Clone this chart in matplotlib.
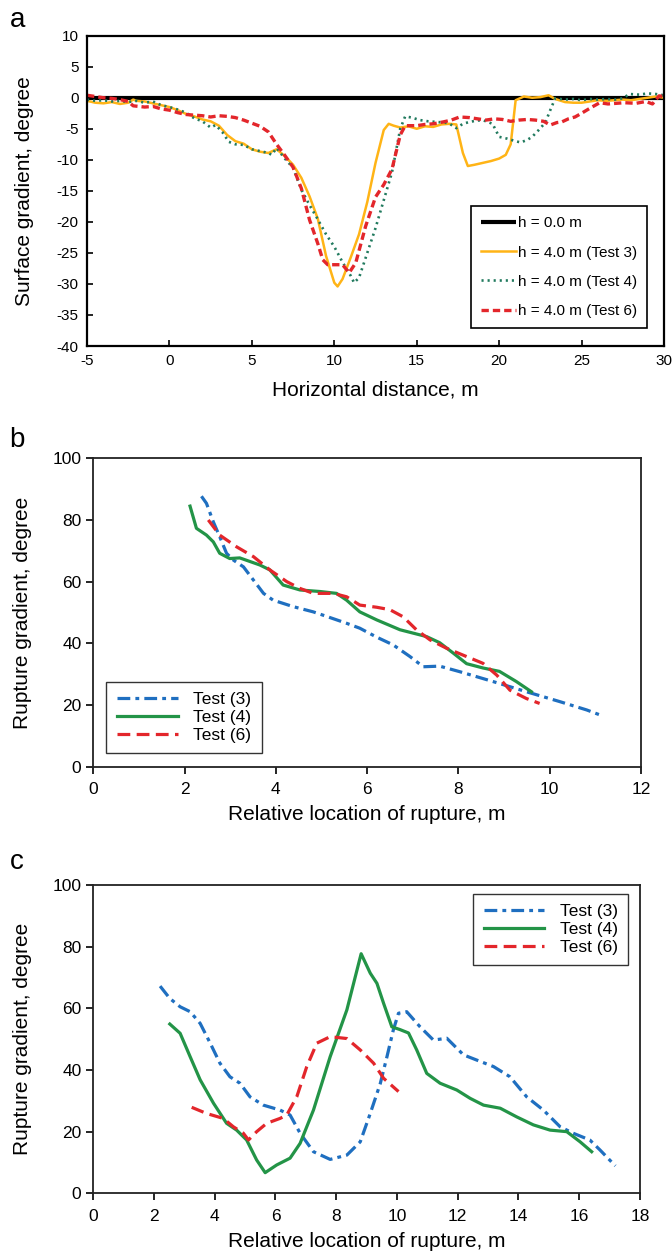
import numpy as np
import matplotlib
matplotlib.use("Agg")
import matplotlib.pyplot as plt

plt.rcParams['font.family'] = ['Liberation Sans', 'DejaVu Sans']
plt.rcParams['axes.unicode_minus'] = False
NARROW = ['Liberation Sans Narrow', 'Liberation Sans', 'DejaVu Sans']

# ---- panel a: surface gradient profiles ----
a_x_t3 = [-5, -4.5, -4, -3.5, -3, -2.5, -2.2, -2, -1.5, -1, -0.5, 0, 0.5, 1, 1.5, 2, 2.5, 3, 3.5, 4,
          4.5, 5, 5.5, 6, 6.5, 7, 7.5, 8, 8.5, 9, 9.5, 10, 10.2, 10.5, 11, 11.5, 12, 12.5, 13, 13.3,
          13.6, 14, 14.5, 15, 15.5, 16, 16.5, 17, 17.4, 17.8, 18.1, 18.5, 19, 19.5, 20, 20.4, 20.7, 21.0,
          21.5, 22, 22.5, 23, 23.4, 24, 24.5, 25, 25.5, 26, 26.5, 27, 27.5, 28, 28.5, 29, 29.5, 30]
a_y_t3 = [-0.5, -0.8, -0.9, -0.7, -1.0, -0.8, -0.3, -0.5, -0.6, -0.9, -1.2, -1.5, -2.0, -2.6, -3.0, -3.5,
          -3.8, -4.5, -6.0, -7.0, -7.4, -8.3, -8.7, -8.9, -8.3, -9.4, -10.8, -12.9, -15.9, -19.5, -25.5,
          -29.8, -30.4, -29.2, -25.7, -22.0, -16.8, -10.5, -5.2, -4.2, -4.5, -4.8, -4.6, -5.0, -4.6, -4.7,
          -4.3, -4.2, -4.3, -8.9, -11.0, -10.8, -10.5, -10.2, -9.8, -9.2, -7.5, -0.4, 0.2, 0.0, 0.1, 0.4,
          -0.2, -0.7, -0.8, -0.8, -0.6, -0.4, -0.5, -0.4, -0.3, -0.4, -0.2, 0.0, 0.2, 0.0]

a_x_t4 = [-5, -4.5, -4, -3.5, -3, -2.5, -2, -1.5, -1, -0.5, 0, 0.5, 1, 1.5, 2, 2.5, 2.8, 3.2, 3.6, 4,
          4.5, 5, 5.5, 6, 6.2, 6.5, 7, 7.5, 8, 8.5, 9, 9.5, 10, 10.5, 11, 11.2, 11.5, 12, 12.5, 13,
          13.5, 14, 14.3, 14.7, 15.2, 15.7, 16.2, 16.7, 17.0, 17.4, 17.8, 18.2, 18.6, 19.0, 19.6, 20.0,
          20.5, 21.0, 21.3, 21.7, 22.0, 22.4, 22.8, 23.1, 23.4, 24, 24.5, 25, 25.5, 26, 26.5, 27, 27.5,
          27.9, 28.5, 29, 29.5, 30]
a_y_t4 = [-0.3, -0.5, -0.4, -0.6, -0.5, -0.7, -0.5, -0.8, -0.6, -1.2, -1.5, -1.9, -2.4, -3.3, -3.8, -4.8,
          -4.4, -5.5, -7.1, -7.5, -7.6, -8.3, -8.6, -8.9, -9.2, -8.1, -9.8, -11.3, -14.8, -17.3, -19.6,
          -22.0, -24.0, -26.5, -28.7, -29.8, -29.0, -25.0, -21.0, -16.5, -12.0, -5.0, -3.0, -3.2, -3.6,
          -3.8, -3.9, -4.0, -4.2, -4.9, -4.2, -3.9, -3.7, -3.6, -4.2, -6.3, -6.6, -7.0, -7.2, -6.8, -6.3,
          -5.2, -4.0, -2.0, -0.1, -0.3, -0.2, -0.4, -0.2, -0.3, -0.2, -0.3, -0.1, 0.6, 0.5, 0.7, 0.6, 0.4]

a_x_t6 = [-5, -4.5, -4, -3.5, -3, -2.5, -2.2, -1.5, -1, -0.5, 0, 0.5, 1, 1.5, 2, 2.5, 3, 3.5, 4, 4.5,
          5, 5.5, 6, 6.5, 7, 7.5, 8, 8.5, 9, 9.3, 9.6, 10, 10.5, 10.9, 11.3, 11.9, 12.5, 13, 13.5, 14,
          14.3, 15, 15.5, 16, 16.6, 17.1, 17.6, 18.2, 18.7, 19.2, 19.7, 20.2, 20.7, 21.2, 21.7, 22.2,
          22.7, 23.1, 23.5, 23.8, 24.2, 24.6, 25.0, 25.5, 26.1, 26.6, 27.1, 27.6, 28.3, 28.9, 29.3,
          29.7, 30]
a_y_t6 = [0.4, 0.2, 0.0, -0.1, -0.3, -0.6, -1.3, -1.5, -1.4, -1.8, -2.0, -2.4, -2.7, -2.8, -2.9, -3.1,
          -2.9, -3.0, -3.2, -3.6, -4.1, -4.6, -5.5, -7.5, -9.3, -11.2, -14.6, -19.7, -23.5, -26.1, -26.9,
          -26.9, -26.9, -28.2, -26.6, -20.7, -16.0, -14.0, -11.5, -6.0, -4.5, -4.5, -4.3, -4.2, -3.9,
          -3.6, -3.1, -3.2, -3.4, -3.6, -3.4, -3.5, -3.8, -3.6, -3.5, -3.6, -3.8, -4.4, -4.0, -3.9, -3.4,
          -3.1, -2.5, -1.7, -0.8, -1.0, -0.9, -0.8, -0.9, -0.6, -1.0, 0.3, 0.2]

a_labels = ['h = 0.0 m', 'h = 4.0 m (Test 3)', 'h = 4.0 m (Test 4)', 'h = 4.0 m (Test 6)']

# ---- panel b ----
b_x_t3 = [2.37, 2.48, 2.63, 2.77, 2.92, 3.07, 3.29, 3.51, 3.73, 3.94, 4.38, 4.82, 5.04, 5.55, 5.84,
          6.21, 6.57, 6.94, 7.23, 7.59, 8.03, 8.76, 9.49, 10.22, 10.81, 11.17]
b_y_t3 = [87.7, 85.4, 79.4, 74.6, 69.2, 67.0, 64.8, 60.5, 56.2, 54.0, 51.9, 50.2, 49.1, 46.5, 44.9,
          42.0, 39.5, 35.7, 32.4, 32.6, 30.8, 27.6, 24.3, 21.1, 18.4, 16.4]
b_x_t4 = [2.12, 2.26, 2.48, 2.63, 2.77, 2.99, 3.21, 3.65, 3.87, 4.16, 4.53, 4.97, 5.33, 5.55, 5.84,
          6.21, 6.72, 7.30, 7.59, 7.89, 8.18, 8.54, 8.90, 9.27, 9.60]
b_y_t4 = [84.5, 77.3, 75.1, 72.9, 69.2, 67.5, 67.7, 65.4, 63.8, 58.9, 57.3, 56.8, 56.2, 54.0, 50.2,
          47.6, 44.4, 42.2, 40.2, 36.8, 33.4, 32.0, 30.9, 27.6, 24.3]
b_x_t6 = [2.52, 2.77, 3.14, 3.51, 3.87, 4.24, 4.53, 4.82, 5.26, 5.55, 5.84, 6.21, 6.50, 6.79, 7.08,
          7.38, 7.74, 8.18, 8.54, 8.84, 9.13, 9.49, 9.78]
b_y_t6 = [80.0, 75.1, 71.3, 68.1, 63.8, 60.0, 57.8, 56.2, 56.2, 55.1, 52.4, 51.7, 50.9, 48.6, 44.4,
          41.1, 38.4, 35.7, 33.5, 29.7, 24.8, 22.1, 20.5]

# ---- panel c ----
c_x_t3 = [2.20, 2.52, 2.86, 3.19, 3.52, 3.85, 4.17, 4.50, 4.83, 5.16, 5.60, 6.15, 6.48, 6.81, 7.25,
          7.80, 8.35, 8.79, 9.12, 9.45, 9.67, 9.88, 10.05, 10.32, 10.76, 11.20, 11.64, 12.19, 12.63,
          13.18, 13.72, 14.27, 14.82, 15.37, 15.80, 16.35, 16.69, 17.19]
c_y_t3 = [67.2, 63.2, 60.5, 58.9, 55.1, 48.7, 42.2, 37.8, 35.7, 31.3, 28.6, 27.0, 25.4, 19.5, 13.5,
          11.0, 12.4, 16.7, 25.9, 35.6, 44.3, 53.0, 58.4, 58.9, 54.0, 49.7, 50.3, 44.9, 43.2, 41.1,
          37.8, 31.3, 27.0, 21.6, 19.5, 17.3, 14.0, 8.9]
c_x_t4 = [2.52, 2.86, 3.19, 3.52, 3.96, 4.39, 4.72, 5.05, 5.38, 5.66, 6.04, 6.48, 6.81, 7.25, 7.80,
          8.35, 8.82, 9.12, 9.34, 9.56, 9.83, 10.10, 10.38, 10.65, 10.98, 11.42, 11.97, 12.41, 12.85,
          13.40, 13.94, 14.49, 15.04, 15.59, 16.03, 16.41]
c_y_t4 = [54.9, 51.9, 44.3, 36.8, 29.2, 22.7, 20.5, 17.3, 10.8, 6.7, 9.2, 11.4, 16.2, 27.0, 44.3,
          59.5, 77.7, 71.4, 68.1, 61.6, 54.0, 53.1, 52.0, 46.5, 38.9, 35.7, 33.5, 30.8, 28.6, 27.6,
          24.8, 22.2, 20.5, 20.0, 16.7, 13.5]
c_x_t6 = [3.24, 3.73, 4.28, 4.61, 4.94, 5.11, 5.38, 5.71, 6.15, 6.37, 6.70, 7.03, 7.36, 7.80, 8.35,
          8.79, 9.23, 9.56, 10.05]
c_y_t6 = [27.9, 25.9, 24.3, 21.6, 19.5, 17.3, 20.0, 22.7, 24.3, 25.4, 31.3, 41.1, 48.7, 50.8, 50.2,
          46.5, 42.2, 37.3, 33.0]

bc_labels = ['Test (3)', 'Test (4)', 'Test (6)']

BLUE, GREEN, RED = '#1f6fc0', '#239447', '#e3262b'

fig = plt.figure(figsize=(6.72, 12.56), dpi=100)

# ---------------- a ----------------
ax = fig.add_axes([0.1295, 0.7245, 0.8586, 0.2471])
ax.plot([-5, 30], [0, 0], color='black', lw=3.0, label=a_labels[0], solid_capstyle='butt')
ax.plot(a_x_t3, a_y_t3, color='#ffb416', lw=1.8, label=a_labels[1])
ax.plot(a_x_t4, a_y_t4, color='#217a5e', lw=1.9, ls=(0, (0.8, 1.5)), label=a_labels[2])
ax.plot(a_x_t6, a_y_t6, color=RED, lw=2.4, ls=(0, (2.2, 1.2)), label=a_labels[3])
ax.set_xlim(-5, 30)
ax.set_ylim(-40, 10)
ax.set_xticks(np.arange(-5, 31, 5))
ax.set_yticks(np.arange(-40, 11, 5))
ax.tick_params(direction='in', length=4, width=1.2, labelsize=11, pad=6)
for lab in ax.get_xticklabels() + ax.get_yticklabels():
    lab.set_family(NARROW)
for s in ax.spines.values():
    s.set_linewidth(1.6)
ax.set_xlabel('Horizontal distance, m', fontsize=15, labelpad=9)
ax.set_ylabel('Surface gradient, degree', fontsize=15, labelpad=16)
leg = ax.legend(loc='lower right', bbox_to_anchor=(0.97, 0.058), borderaxespad=0,
                prop={'family': NARROW, 'size': 11}, handlelength=2.3, handletextpad=0.1,
                labelspacing=1.0, fancybox=False, framealpha=1, borderpad=0.65)
leg.get_frame().set_edgecolor('black')
leg.get_frame().set_linewidth(1.2)
fig.text(18 / 672, 1 - 20 / 1256, 'a', fontsize=20, ha='center', va='center')


def rupture_panel(rect, xs, ys, xmax, legend_kw, letter, letter_y):
    ax = fig.add_axes(rect)
    styles = [dict(color=BLUE, ls=(0, (4, 1.6, 1.2, 1.6))),
              dict(color=GREEN, ls='-'),
              dict(color=RED, ls=(0, (4, 2)))]
    for x, y, st, lab in zip(xs, ys, styles, bc_labels):
        ax.plot(x, y, lw=2.3, label=lab, solid_joinstyle='round', dash_joinstyle='round', **st)
    ax.set_xlim(0, xmax)
    ax.set_ylim(0, 100)
    ax.set_xticks(np.arange(0, xmax + 1, 2))
    ax.set_yticks(np.arange(0, 101, 20))
    ax.tick_params(direction='out', length=5, width=1.2, labelsize=12.5)
    ax.tick_params(axis='x', pad=6)
    for s in ax.spines.values():
        s.set_linewidth(1.3)
        s.set_color('#222222')
    ax.set_xlabel('Relative location of rupture, m', fontsize=15, labelpad=6)
    ax.set_ylabel('Rupture gradient, degree', fontsize=15, labelpad=15)
    leg = ax.legend(borderaxespad=0, fontsize=12.5, handlelength=3.5, handletextpad=0.9,
                    labelspacing=0.15, fancybox=False, framealpha=1, borderpad=0.6, **legend_kw)
    leg.get_frame().set_edgecolor('#333333')
    leg.get_frame().set_linewidth(1.0)
    fig.text(17 / 672, 1 - letter_y / 1256, letter, fontsize=20, ha='center', va='center')
    return ax


rupture_panel([0.1388, 0.3896, 0.815, 0.2455],
              [b_x_t3, b_x_t4, b_x_t6], [b_y_t3, b_y_t4, b_y_t6], 12,
              dict(loc='lower left', bbox_to_anchor=(0.024, 0.043)), 'b', 440)
rupture_panel([0.1388, 0.0499, 0.8135, 0.2455],
              [c_x_t3, c_x_t4, c_x_t6], [c_y_t3, c_y_t4, c_y_t6], 18,
              dict(loc='upper right', bbox_to_anchor=(0.979, 0.971)), 'c', 862)

fig.savefig('out.png', dpi=100)
